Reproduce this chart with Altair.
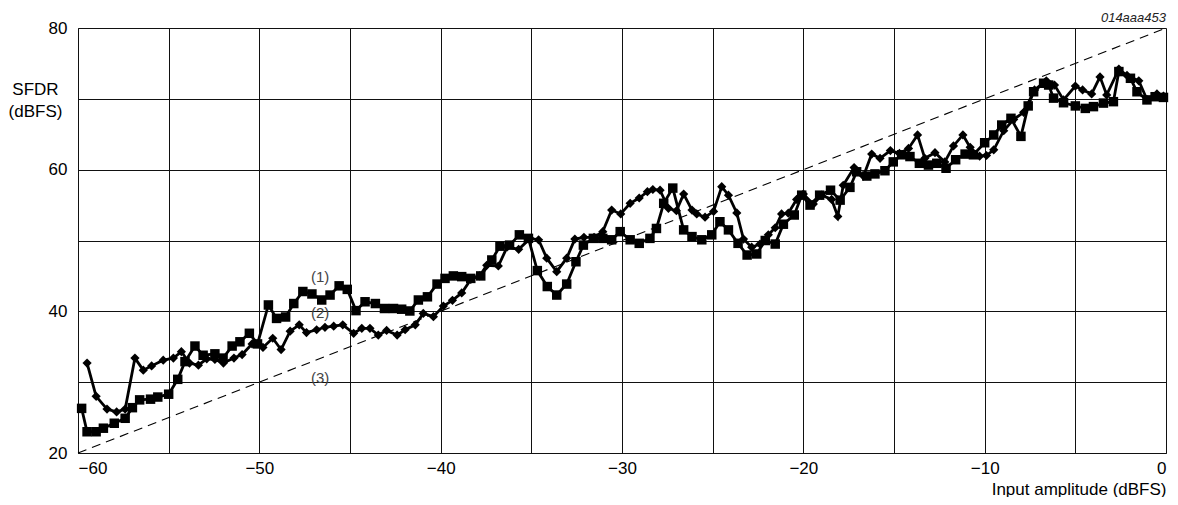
import altair as alt
import pandas as pd

# Series (1): squares
s1_x = [-59.8, -59.5, -59.0, -58.6, -58.0, -57.4, -57.0, -56.6, -56.0, -55.6, -55.0,
        -54.5, -54.1, -53.55, -53.1, -52.45, -52.0, -51.5, -51.07, -50.55, -50.1,
        -49.5, -49.05, -48.55, -48.1, -47.6, -47.1, -46.56, -46.1, -45.6, -45.15,
        -44.67, -44.17, -43.6, -43.1, -42.6, -42.15, -41.7, -41.23, -40.73, -40.2,
        -39.76, -39.3, -38.84, -38.34, -37.79, -37.18, -36.73, -36.2, -35.66, -35.16,
        -34.67, -34.12, -33.6, -33.05, -32.54, -32.13, -31.58, -31.06, -30.57, -30.1,
        -29.55, -29.05, -28.46, -28.1, -27.7, -27.2, -26.6, -26.14, -25.6, -25.05,
        -24.6, -24.13, -23.6, -23.1, -22.57, -22.1, -21.55, -21.1, -20.5, -20.09,
        -19.63, -19.1, -18.5, -17.97, -17.43, -17.06, -16.5, -16.05, -15.5, -15.04,
        -14.58, -14.12, -13.6, -13.1, -12.64, -12.13, -11.6, -11.08, -10.62, -10.0,
        -9.5, -9.06, -8.55, -8.0, -7.6, -7.3, -6.75, -6.47, -6.2, -5.65,
        -5.0, -4.45, -4.0, -3.45, -2.9, -2.6, -1.96, -1.6, -1.05, -0.6, -0.14]
s1_y = [26.3, 23.0, 23.0, 23.5, 24.2, 24.9, 26.4, 27.5, 27.6, 27.9, 28.3,
        30.4, 32.9, 35.1, 33.8, 34.0, 33.4, 35.1, 35.7, 36.9, 35.4,
        40.9, 39.0, 39.2, 41.1, 42.8, 42.45, 41.6, 42.3, 43.6, 43.1,
        40.1, 41.35, 41.1, 40.4, 40.4, 40.3, 40.05, 41.6, 42.05, 43.85,
        44.65, 45.0, 44.9, 44.65, 45.0, 47.25, 49.2, 49.35, 50.8, 50.3,
        45.75, 43.5, 42.3, 43.85, 47.0, 49.35, 50.3, 50.3, 50.1, 51.25,
        50.1, 49.6, 50.3, 51.7, 55.25, 57.4, 51.5, 50.55, 50.1, 50.8,
        52.65, 51.5, 49.6, 47.95, 48.1, 50.0, 49.5, 52.3, 53.6, 56.4,
        55.0, 56.4, 57.1, 55.7, 57.5, 59.7, 59.1, 59.4, 59.85, 61.1,
        62.1, 61.85, 60.9, 60.65, 60.9, 60.2, 61.4, 62.2, 62.1, 63.8,
        64.9, 66.3, 67.25, 64.7, 69.0, 71.0, 72.2, 71.95, 70.1, 69.45,
        69.0, 68.65, 68.9, 69.4, 69.6, 73.85, 72.9, 71.0, 69.85, 70.3, 70.2]

# Series (2): diamonds
s2_x = [-59.5, -59.0, -58.4, -57.87, -57.4, -56.86, -56.4, -55.94, -55.3, -54.74,
        -54.3, -53.85, -53.36, -52.9, -52.45, -51.98, -51.4, -50.95, -50.4, -49.8,
        -49.26, -48.8, -48.3, -47.8, -47.4, -46.84, -46.38, -45.9, -45.4, -44.8,
        -44.35, -43.9, -43.44, -42.98, -42.4, -41.96, -41.4, -40.96, -40.4, -39.85,
        -39.35, -38.84, -38.34, -37.85, -37.46, -36.82, -36.33, -35.7, -35.07, -34.6,
        -34.15, -33.6, -33.05, -32.6, -32.1, -31.54, -31.06, -30.57, -30.07, -29.55,
        -29.05, -28.6, -28.3, -27.9, -27.44, -27.0, -26.6, -26.14, -25.88, -25.42,
        -24.95, -24.5, -24.13, -23.67, -23.3, -22.85, -22.39, -21.93, -21.55, -21.2,
        -20.83, -20.37, -20.0, -19.45, -18.99, -18.44, -18.1, -17.8, -17.2, -16.68,
        -16.23, -15.77, -15.2, -14.7, -14.2, -13.7, -13.3, -12.74, -12.2, -11.72,
        -11.2, -10.8, -10.28, -9.9, -9.5, -8.95, -8.4, -7.85, -7.25, -6.6,
        -6.15, -5.65, -5.0, -4.6, -4.1, -3.64, -3.27, -2.6, -2.15, -1.5,
        -1.05, -0.5, -0.14]
s2_y = [32.7, 28.0, 26.2, 25.8, 26.2, 33.4, 31.7, 32.3, 33.1, 33.4,
        34.3, 32.7, 32.4, 33.3, 33.2, 32.7, 33.4, 33.9, 35.4, 34.9,
        36.2, 34.6, 37.2, 38.1, 37.0, 37.4, 37.75, 37.9, 38.1, 36.9,
        37.6, 37.6, 36.65, 37.3, 36.65, 37.4, 38.1, 39.7, 39.25, 40.75,
        41.55, 42.6, 44.5, 45.0, 46.5, 46.4, 49.1, 48.75, 50.3, 50.1,
        47.5, 45.6, 47.5, 50.2, 50.45, 50.45, 51.25, 54.3, 53.75, 55.25,
        56.0, 56.9, 57.2, 57.1, 54.55, 54.2, 56.55, 54.3, 53.75, 53.3,
        54.1, 57.6, 56.4, 53.9, 50.2, 49.05, 49.5, 50.8, 51.8, 53.75,
        53.85, 55.8, 56.55, 55.15, 56.4, 55.8, 53.4, 57.8, 60.3, 59.1,
        62.2, 61.6, 62.7, 62.3, 63.0, 64.9, 61.6, 62.4, 61.1, 63.35,
        64.9, 63.15, 61.9, 62.0, 62.8, 65.5, 67.1, 68.1, 71.25, 72.55,
        71.95, 69.85, 71.8, 71.25, 70.7, 73.1, 70.55, 74.2, 73.3, 72.55,
        69.9, 70.7, 70.4]

# Series (3): ideal reference line
s3_x = [-60, 0]
s3_y = [20, 80]

label_text = ["(1)", "(2)", "(3)"]
label_x = [-46.65, -46.65, -46.65]
label_y = [44.8, 39.8, 30.6]

df1 = pd.DataFrame({"x": s1_x, "y": s1_y})
df2 = pd.DataFrame({"x": s2_x, "y": s2_y})
df3 = pd.DataFrame({"x": s3_x, "y": s3_y})
dfl = pd.DataFrame({"t": label_text, "x": label_x, "y": label_y})
dfc = pd.DataFrame({"t": ["014aaa453"], "x": [0], "y": [80]})

FONT = "Liberation Sans"
FS = 17

xscale = alt.Scale(domain=[-60, 0], nice=False, zero=False)
yscale = alt.Scale(domain=[20, 80], nice=False, zero=False)

xaxis = alt.Axis(
    values=list(range(-60, 1, 5)),
    labelExpr="datum.value % 10 == 0 ? (datum.value < 0 ? '\u2212' + abs(datum.value) : '' + datum.value) : ''",
    grid=True, gridColor="#111", gridWidth=1,
    ticks=False, domainColor="#111",
    labelFont=FONT, labelFontSize=FS, labelColor="#000", labelPadding=7,
    title="Input amplitude (dBFS)", titleFont=FONT, titleFontSize=FS,
    titleFontWeight="normal", titleColor="#000",
    titleX=1088, titleY=41, titleAlign="right", titleBaseline="alphabetic",
)
yaxis = alt.Axis(
    values=list(range(20, 81, 10)),
    labelExpr="datum.value % 20 == 0 ? '' + datum.value : ''",
    grid=True, gridColor="#111", gridWidth=1,
    ticks=False, domainColor="#111",
    labelFont=FONT, labelFontSize=FS, labelColor="#000", labelPadding=11,
    title=["SFDR", "(dBFS)"], titleFont=FONT, titleFontSize=FS,
    titleFontWeight="normal", titleColor="#000", titleAngle=0,
    titleX=-43, titleY=66, titleAlign="center", titleBaseline="alphabetic",
    titleLineHeight=22,
)

X = alt.X("x:Q", scale=xscale, axis=xaxis)
Y = alt.Y("y:Q", scale=yscale, axis=yaxis)
Xn = alt.X("x:Q", scale=xscale)
Yn = alt.Y("y:Q", scale=yscale)

ref = alt.Chart(df3).mark_line(color="#000", strokeWidth=1.1, strokeDash=[9, 6]).encode(x=X, y=Y)

line1 = alt.Chart(df1).mark_line(color="#000", strokeWidth=2.8).encode(x=Xn, y=Yn)
pts1 = alt.Chart(df1).mark_point(shape="square", filled=True, color="#000", size=90, opacity=1).encode(x=Xn, y=Yn)

line2 = alt.Chart(df2).mark_line(color="#000", strokeWidth=2.8).encode(x=Xn, y=Yn)
pts2 = alt.Chart(df2).mark_point(shape="diamond", filled=True, color="#000", size=85, opacity=1).encode(x=Xn, y=Yn)

labels = alt.Chart(dfl).mark_text(font=FONT, fontSize=15, color="#444", align="center", baseline="middle").encode(
    x=Xn, y=Yn, text="t:N")

code = alt.Chart(dfc).mark_text(font=FONT, fontSize=13, fontStyle="italic", color="#222",
                                align="right", baseline="alphabetic", dy=-6).encode(x=Xn, y=Yn, text="t:N")

chart = alt.layer(ref, line2, line1, pts2, pts1, labels, code).properties(
    width=1088, height=425,
    autosize=alt.AutoSizeParams(type="none"),
    padding={"left": 70, "top": 20, "right": 4, "bottom": 44},
).configure_view(stroke="#111", strokeWidth=1).configure(background="#ffffff")

chart.save("out.html", embed_options={"renderer": "svg", "actions": False})
